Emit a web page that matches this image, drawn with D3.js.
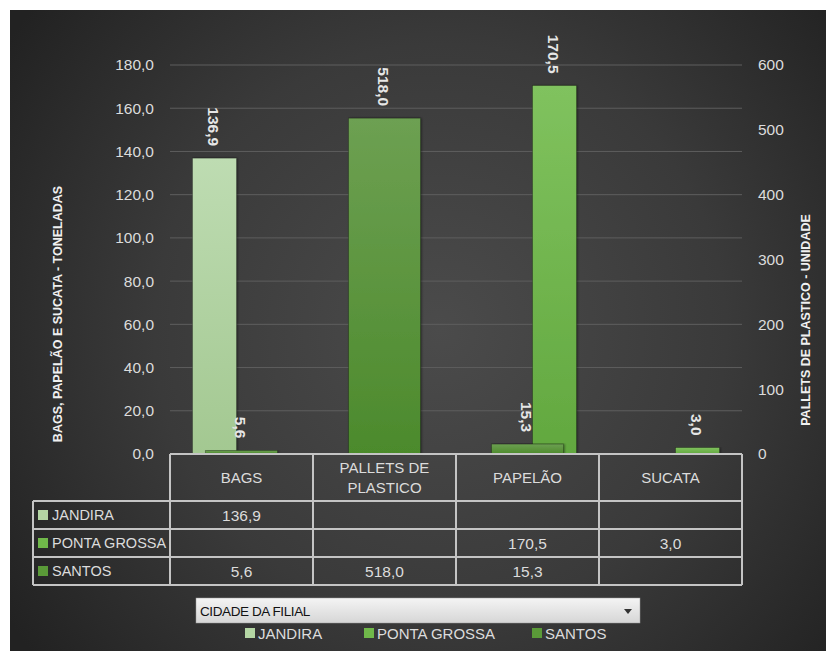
<!DOCTYPE html>
<html>
<head>
<meta charset="utf-8">
<script src="https://cdn.jsdelivr.net/npm/d3@7"></script>
<style>
  body { margin: 0; background: #ffffff; }
  svg { display: block; font-family: "Liberation Sans", Arial, sans-serif; }
</style>
</head>
<body>
<div id="chartContainer"></div>
<script>
// data
const categories = ["BAGS", "PALLETS DE PLASTICO", "PAPELÃO", "SUCATA"];
const headerLines = [["BAGS"], ["PALLETS DE", "PLASTICO"], ["PAPELÃO"], ["SUCATA"]];
const seriesNames = ["JANDIRA", "PONTA GROSSA", "SANTOS"];
const jandira = [136.9, null, null, null];
const pontaGrossa = [null, null, 170.5, 3.0];
const santos = [5.6, 518.0, 15.3, null];   // secondary axis (unidade)
const leftTicks = [0, 20, 40, 60, 80, 100, 120, 140, 160, 180];
const rightTicks = [0, 100, 200, 300, 400, 500, 600];
const leftTitle = "BAGS, PAPELÃO E SUCATA  - TONELADAS";
const rightTitle = "PALLETS DE PLASTICO - UNIDADE";
const fieldButton = "CIDADE DA FILIAL";

const ctx = {
    SVG_W: 826,
    SVG_H: 651,
    plot: { left: 170, right: 742, top: 65, bottom: 454 },
    rowH: 28,
    headerH: 47,
    tableLeft: 33,
    colors: {
        "JANDIRA": ["#bedcb2", "#a3c891"],
        "PONTA GROSSA": ["#80c25e", "#62a83f"],
        "SANTOS": ["#6da052", "#4c8a2c"]
    },
    key: { "JANDIRA": "#b4d6a4", "PONTA GROSSA": "#70b84a", "SANTOS": "#5a9a38" },
    text: "#dcdcdc"
};

const fmt = d3.formatLocale({ decimal: ",", thousands: ".", grouping: [3], currency: ["", ""] }).format(".1f");

function createViz() {
    const svg = d3.select("#chartContainer").append("svg")
        .attr("width", ctx.SVG_W)
        .attr("height", ctx.SVG_H);

    addBackground(svg);

    const p = ctx.plot;
    const x = d3.scaleBand().domain(categories).range([p.left, p.right]);
    const xPrim = d3.scaleBand().domain(["JANDIRA", "PONTA GROSSA"])
        .range([0, x.bandwidth()]).paddingInner(0.185).paddingOuter(0.4166);
    const xSec = d3.scaleBand().domain(["SANTOS"])
        .range([0, x.bandwidth()]).padding(0.33);
    const yLeft = d3.scaleLinear().domain([0, 180]).range([p.bottom, p.top]);
    const yRight = d3.scaleLinear().domain([0, 600]).range([p.bottom, p.top]);

    // gridlines
    svg.append("g").selectAll("line")
        .data(leftTicks.filter(d => d > 0))
        .join("line")
        .attr("x1", p.left).attr("x2", p.right)
        .attr("y1", d => yLeft(d)).attr("y2", d => yLeft(d))
        .attr("stroke", "#5e5e5e").attr("stroke-width", 1);

    // axes
    const axL = svg.append("g")
        .attr("transform", `translate(${p.left},0)`)
        .call(d3.axisLeft(yLeft).tickValues(leftTicks).tickFormat(fmt).tickSize(0).tickPadding(16));
    const axR = svg.append("g")
        .attr("transform", `translate(${p.right},0)`)
        .call(d3.axisRight(yRight).tickValues(rightTicks).tickFormat(d3.format("d")).tickSize(0).tickPadding(16));
    [axL, axR].forEach(ax => {
        ax.select(".domain").remove();
        ax.selectAll("text")
            .attr("fill", ctx.text)
            .style("font-size", "15.5px")
            .style("font-family", "'Liberation Sans', Arial, sans-serif");
    });

    // axis titles
    svg.append("text")
        .attr("transform", `translate(62,314) rotate(-90)`)
        .attr("text-anchor", "middle")
        .attr("fill", "#f0f0f0")
        .style("font-size", "12.5px").style("font-weight", "bold")
        .text(leftTitle);
    svg.append("text")
        .attr("transform", `translate(810,320) rotate(-90)`)
        .attr("text-anchor", "middle")
        .attr("fill", "#f0f0f0")
        .style("font-size", "12.5px").style("font-weight", "bold")
        .text(rightTitle);

    // gradients for bars
    const defs = svg.select("defs");
    seriesNames.forEach((s, i) => {
        const g = defs.append("linearGradient")
            .attr("id", `bar-grad-${i}`)
            .attr("x1", 0).attr("y1", 0).attr("x2", 0).attr("y2", 1);
        g.append("stop").attr("offset", "0%").attr("stop-color", ctx.colors[s][0]);
        g.append("stop").attr("offset", "100%").attr("stop-color", ctx.colors[s][1]);
    });

    const bars = [];
    categories.forEach((c, i) => {
        if (jandira[i] != null) bars.push({ s: 0, cat: c, v: jandira[i], x: x(c) + xPrim("JANDIRA"), w: xPrim.bandwidth(), y: yLeft });
        if (pontaGrossa[i] != null) bars.push({ s: 1, cat: c, v: pontaGrossa[i], x: x(c) + xPrim("PONTA GROSSA"), w: xPrim.bandwidth(), y: yLeft });
    });
    categories.forEach((c, i) => {
        if (santos[i] != null) bars.push({ s: 2, cat: c, v: santos[i], x: x(c) + xSec("SANTOS"), w: xSec.bandwidth(), y: yRight });
    });

    svg.append("g").selectAll("rect")
        .data(bars)
        .join("rect")
        .attr("x", d => d.x)
        .attr("y", d => d.y(d.v))
        .attr("width", d => d.w)
        .attr("height", d => d.y(0) - d.y(d.v))
        .attr("fill", d => `url(#bar-grad-${d.s})`)
        .attr("stroke", "rgba(0,0,0,0.35)")
        .attr("stroke-width", 0.8)
        .style("filter", "url(#barShadow)");

    // data labels, rotated
    svg.append("g").selectAll("text")
        .data(bars)
        .join("text")
        .attr("transform", d => `translate(${d.x + d.w / 2 - 1},${d.y(d.v) - 12}) rotate(90)`)
        .attr("text-anchor", "end")
        .attr("dominant-baseline", "central")
        .attr("fill", "#e6e6e6")
        .style("font-size", "15.5px").style("font-weight", "bold")
        .text(d => fmt(d.v));

    addTable(svg, x);
    addFooter(svg);
}

function addBackground(svg) {
    const defs = svg.append("defs");
    const rg = defs.append("radialGradient")
        .attr("id", "bgGrad")
        .attr("gradientUnits", "userSpaceOnUse")
        .attr("cx", 440).attr("cy", 330).attr("r", 520);
    rg.append("stop").attr("offset", "0%").attr("stop-color", "#4b4b4b");
    rg.append("stop").attr("offset", "55%").attr("stop-color", "#3a3a3a");
    rg.append("stop").attr("offset", "100%").attr("stop-color", "#222222");

    const f = defs.append("filter").attr("id", "barShadow")
        .attr("x", "-20%").attr("y", "-5%").attr("width", "140%").attr("height", "110%");
    f.append("feDropShadow").attr("dx", 1).attr("dy", 0).attr("stdDeviation", 1.2)
        .attr("flood-color", "#000").attr("flood-opacity", 0.45);

    svg.append("rect")
        .attr("x", 10).attr("y", 10)
        .attr("width", ctx.SVG_W - 10).attr("height", ctx.SVG_H - 10)
        .attr("fill", "url(#bgGrad)");
}

function addTable(svg, x) {
    const p = ctx.plot;
    const top = p.bottom;
    const hdrBottom = top + ctx.headerH;
    const tableBottom = hdrBottom + ctx.rowH * seriesNames.length;
    const g = svg.append("g");
    const lineCol = "#c4c4c4";

    const line = (x1, y1, x2, y2) => g.append("line")
        .attr("x1", x1).attr("y1", y1).attr("x2", x2).attr("y2", y2)
        .attr("stroke", lineCol).attr("stroke-width", 2);

    // horizontal lines
    line(p.left, top, p.right, top);
    d3.range(seriesNames.length + 1).forEach(i => {
        line(ctx.tableLeft, hdrBottom + i * ctx.rowH, p.right, hdrBottom + i * ctx.rowH);
    });
    // vertical lines
    line(ctx.tableLeft, hdrBottom, ctx.tableLeft, tableBottom);
    categories.forEach(c => line(x(c), top, x(c), tableBottom));
    line(p.right, top, p.right, tableBottom);

    // header
    categories.forEach((c, i) => {
        const lines = headerLines[i];
        const cy = top + ctx.headerH / 2;
        lines.forEach((t, j) => {
            g.append("text")
                .attr("x", x(c) + x.bandwidth() / 2)
                .attr("y", cy + (j - (lines.length - 1) / 2) * 20)
                .attr("text-anchor", "middle")
                .attr("dominant-baseline", "central")
                .attr("fill", ctx.text)
                .style("font-size", "15px")
                .text(t);
        });
    });

    const rows = [jandira, pontaGrossa, santos];
    seriesNames.forEach((s, r) => {
        const cy = hdrBottom + r * ctx.rowH + ctx.rowH / 2;
        g.append("rect")
            .attr("x", 38).attr("y", cy - 5)
            .attr("width", 10).attr("height", 10)
            .attr("fill", ctx.key[s]);
        g.append("text")
            .attr("x", 52).attr("y", cy)
            .attr("dominant-baseline", "central")
            .attr("fill", ctx.text)
            .style("font-size", "14.5px")
            .text(s);
        categories.forEach((c, i) => {
            if (rows[r][i] == null) return;
            g.append("text")
                .attr("x", x(c) + x.bandwidth() / 2)
                .attr("y", cy)
                .attr("text-anchor", "middle")
                .attr("dominant-baseline", "central")
                .attr("fill", ctx.text)
                .style("font-size", "15.5px")
                .text(fmt(rows[r][i]));
        });
    });
}

function addFooter(svg) {
    const defs = svg.select("defs");
    const bg = defs.append("linearGradient").attr("id", "btnGrad")
        .attr("x1", 0).attr("y1", 0).attr("x2", 0).attr("y2", 1);
    bg.append("stop").attr("offset", "0%").attr("stop-color", "#f4f4f4");
    bg.append("stop").attr("offset", "100%").attr("stop-color", "#d6d6d6");

    svg.append("rect")
        .attr("x", 196).attr("y", 598)
        .attr("width", 444).attr("height", 25)
        .attr("fill", "url(#btnGrad)")
        .attr("stroke", "#9a9a9a").attr("stroke-width", 0.5);
    svg.append("text")
        .attr("x", 200).attr("y", 611)
        .attr("dominant-baseline", "central")
        .attr("fill", "#111")
        .style("font-size", "13.5px")
        .style("letter-spacing", "-0.4px")
        .text(fieldButton);
    svg.append("path")
        .attr("d", "M624,609 L632,609 L628,614 Z")
        .attr("fill", "#333");

    // legend
    const legendX = [245, 364, 532];
    const lg = svg.append("g").selectAll("g")
        .data(seriesNames)
        .join("g")
        .attr("transform", (d, i) => `translate(${legendX[i]},633)`);
    lg.append("rect")
        .attr("x", 0).attr("y", -5)
        .attr("width", 10).attr("height", 10)
        .attr("fill", d => ctx.key[d]);
    lg.append("text")
        .attr("x", 13).attr("y", 0)
        .attr("dominant-baseline", "central")
        .attr("fill", ctx.text)
        .style("font-size", "15px")
        .text(d => d);
}

createViz();
</script>
</body>
</html>
